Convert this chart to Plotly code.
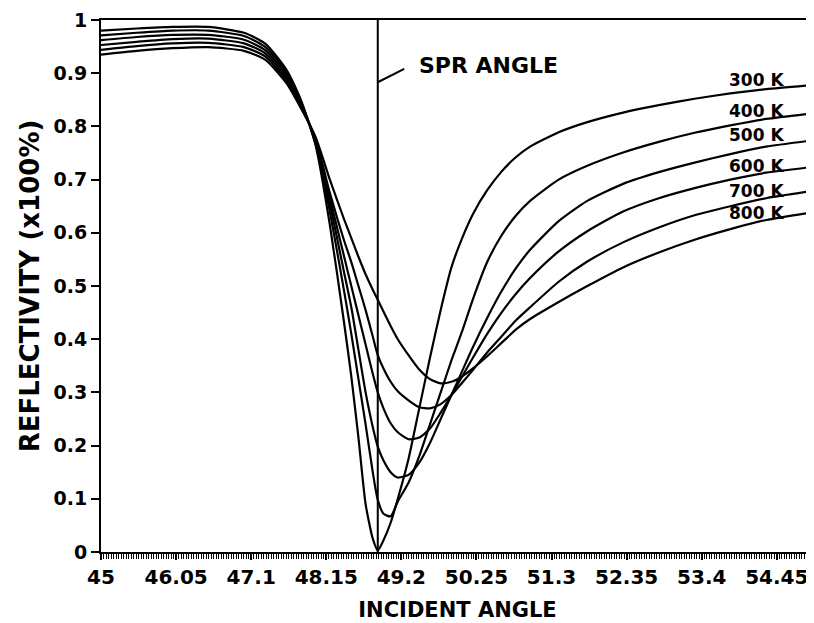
import plotly.graph_objects as go

# incident angle samples (degrees)
angle = [45.0, 45.5, 46.0, 46.5, 47.0, 47.3, 47.6, 47.8, 48.0, 48.2, 48.4, 48.5, 48.6, 48.7,
         48.8, 48.87, 48.95, 49.05, 49.15, 49.3, 49.45, 49.6, 49.75, 49.9, 50.05, 50.2,
         50.4, 50.6, 50.8, 51.0, 51.4, 51.8, 52.3, 52.8, 53.3, 53.8, 54.3, 54.97]

r_300 = [0.980, 0.984, 0.987, 0.987, 0.976, 0.955, 0.905, 0.848, 0.765, 0.615, 0.430, 0.330, 0.215, 0.090,
         0.025, 0.003, 0.022, 0.055, 0.100, 0.175, 0.270, 0.365, 0.455, 0.535, 0.590, 0.635,
         0.680, 0.715, 0.742, 0.762, 0.789, 0.808, 0.826, 0.840, 0.852, 0.862, 0.870, 0.878]
r_400 = [0.971, 0.976, 0.980, 0.980, 0.970, 0.949, 0.900, 0.845, 0.768, 0.640, 0.490, 0.410, 0.325, 0.240,
         0.150, 0.098, 0.072, 0.067, 0.095, 0.130, 0.180, 0.240, 0.300, 0.360, 0.415, 0.475,
         0.545, 0.595, 0.632, 0.660, 0.700, 0.726, 0.751, 0.771, 0.788, 0.802, 0.814, 0.825]
r_500 = [0.962, 0.968, 0.972, 0.972, 0.963, 0.943, 0.895, 0.842, 0.771, 0.655, 0.525, 0.460, 0.380, 0.300,
         0.235, 0.198, 0.172, 0.150, 0.140, 0.145, 0.168, 0.205, 0.250, 0.295, 0.340, 0.385,
         0.440, 0.490, 0.533, 0.568, 0.622, 0.660, 0.692, 0.714, 0.732, 0.748, 0.762, 0.774]
r_600 = [0.953, 0.959, 0.964, 0.965, 0.956, 0.937, 0.890, 0.839, 0.774, 0.665, 0.555, 0.500, 0.445, 0.390,
         0.335, 0.300, 0.270, 0.242, 0.225, 0.212, 0.215, 0.232, 0.262, 0.295, 0.330, 0.365,
         0.410, 0.450, 0.485, 0.515, 0.565, 0.603, 0.640, 0.665, 0.684, 0.700, 0.713, 0.724]
r_700 = [0.944, 0.951, 0.956, 0.957, 0.949, 0.931, 0.885, 0.836, 0.777, 0.675, 0.585, 0.545, 0.500, 0.455,
         0.405, 0.370, 0.345, 0.320, 0.302, 0.285, 0.272, 0.270, 0.278, 0.295, 0.318, 0.342,
         0.375, 0.405, 0.435, 0.460, 0.508, 0.546, 0.582, 0.610, 0.633, 0.650, 0.665, 0.679]
r_800 = [0.935, 0.942, 0.947, 0.949, 0.942, 0.925, 0.880, 0.833, 0.780, 0.700, 0.625, 0.590, 0.555, 0.522,
         0.493, 0.474, 0.452, 0.425, 0.400, 0.370, 0.343, 0.325, 0.317, 0.320, 0.330, 0.345,
         0.368, 0.393, 0.418, 0.438, 0.470, 0.500, 0.535, 0.563, 0.587, 0.607, 0.624, 0.639]

series = [r_300, r_400, r_500, r_600, r_700, r_800]
labels = ["300 K", "400 K", "500 K", "600 K", "700 K", "800 K"]
label_y = [0.887, 0.829, 0.784, 0.726, 0.679, 0.638]
label_x = 54.17

SPR_ANGLE = 48.87
x_ticks = [45, 46.05, 47.1, 48.15, 49.2, 50.25, 51.3, 52.35, 53.4, 54.45]
y_ticks = [0, 0.1, 0.2, 0.3, 0.4, 0.5, 0.6, 0.7, 0.8, 0.9, 1]

FONT = "DejaVu Sans"

fig = go.Figure()
for vals, name in zip(series, labels):
    fig.add_trace(go.Scatter(x=angle, y=vals, mode="lines", name=name,
                             line=dict(color="black", width=2.2, shape="spline", smoothing=0.6),
                             showlegend=False, hoverinfo="skip"))

for name, yv in zip(labels, label_y):
    fig.add_annotation(x=label_x, y=yv, text="<b>%s</b>" % name, showarrow=False,
                       font=dict(family=FONT, size=17, color="black"))

# SPR angle marker
fig.add_shape(type="line", x0=SPR_ANGLE, x1=SPR_ANGLE, y0=0, y1=1, xref="x", yref="y",
              line=dict(color="black", width=2))
fig.add_shape(type="line", x0=SPR_ANGLE, x1=SPR_ANGLE + 0.37, y0=0.883, y1=0.908, xref="x", yref="y",
              line=dict(color="black", width=2))
fig.add_annotation(x=SPR_ANGLE + 0.55, y=0.915, text="<b>SPR ANGLE</b>", showarrow=False, xanchor="left",
                   font=dict(family=FONT, size=22, color="black"))

# the page body has an 8px margin, so the figure is sized to fit the window from there
fig.update_layout(
    width=806, height=615,
    margin=dict(l=93, r=0, t=12, b=71, autoexpand=False),
    paper_bgcolor="white", plot_bgcolor="white",
    font=dict(family=FONT, color="black"),
)
fig.update_xaxes(
    range=[45, 54.97], tickmode="array", tickvals=x_ticks,
    ticktext=["<b>%s</b>" % v for v in x_ticks],
    ticks="outside", ticklen=6, tickwidth=1.5, tickcolor="black",
    minor=dict(dtick=0.035, tick0=45, ticks="outside", ticklen=5, tickwidth=1, tickcolor="black"),
    showline=True, linecolor="black", linewidth=2, mirror=True,
    showgrid=False, zeroline=False, automargin=False,
    tickfont=dict(family=FONT, size=20, color="black"), ticklabelstandoff=0,
    title=dict(text="<b>INCIDENT ANGLE</b>", font=dict(family=FONT, size=21, color="black"), standoff=14),
)
fig.update_yaxes(
    range=[0, 1], tickmode="array", tickvals=y_ticks,
    ticktext=["<b>%s</b>" % ("%g" % v) for v in y_ticks],
    ticks="outside", ticklen=8, tickwidth=1.5, tickcolor="black",
    showline=True, linecolor="black", linewidth=2, mirror=False,
    showgrid=False, zeroline=False, automargin=False,
    tickfont=dict(family=FONT, size=19, color="black"),
    title=dict(text="<b>REFLECTIVITY (x100%)</b>", font=dict(family=FONT, size=26, color="black"), standoff=6),
)

fig.write_html("out.html")
